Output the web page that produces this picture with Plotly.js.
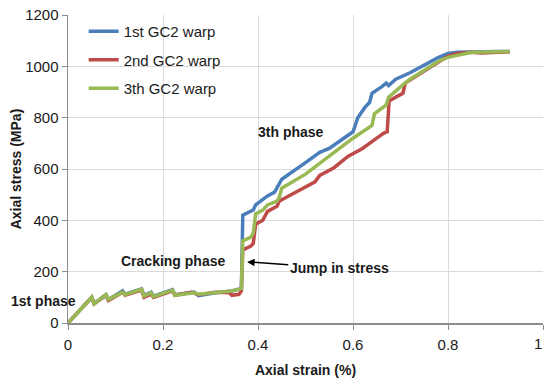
<!DOCTYPE html>
<html>
<head>
<meta charset="utf-8">
<script src="https://cdn.plot.ly/plotly-3.0.1.min.js"></script>
<style>html,body{margin:0;padding:0;background:#fff;}#chart{width:544px;height:380px;}</style>
</head>
<body>
<div id="chart"></div>
<script>
const seriesNames = ["1st GC2 warp", "2nd GC2 warp", "3th GC2 warp"];

const strain1 = [0,0.05,0.055,0.08,0.085,0.115,0.12,0.155,0.16,0.175,0.18,0.22,0.225,0.265,0.275,0.31,0.345,0.365,0.368,0.38,0.39,0.395,0.41,0.42,0.435,0.445,0.45,0.5,0.53,0.55,0.58,0.6,0.61,0.625,0.635,0.64,0.66,0.67,0.675,0.69,0.72,0.75,0.78,0.8,0.82,0.9,0.93];
const stress1 = [0,100,75,110,92,125,112,133,108,120,105,130,110,120,107,118,125,135,420,430,440,460,480,495,510,540,560,625,665,680,720,745,800,840,860,895,920,935,925,950,975,1005,1035,1050,1055,1058,1058];

const strain2 = [0,0.05,0.055,0.08,0.085,0.115,0.12,0.155,0.16,0.175,0.18,0.22,0.225,0.26,0.275,0.31,0.34,0.345,0.36,0.365,0.368,0.385,0.39,0.395,0.41,0.42,0.44,0.445,0.5,0.52,0.53,0.56,0.59,0.62,0.65,0.665,0.672,0.676,0.69,0.705,0.71,0.75,0.78,0.8,0.82,0.85,0.87,0.93];
const stress2 = [0,100,75,108,88,120,108,128,100,112,100,125,108,120,110,120,118,108,112,125,285,300,310,385,400,435,455,475,530,550,575,605,650,680,720,740,745,865,880,895,935,980,1015,1040,1050,1055,1052,1057];

const strain3 = [0,0.05,0.055,0.08,0.085,0.115,0.12,0.155,0.16,0.175,0.18,0.22,0.225,0.265,0.275,0.31,0.345,0.365,0.368,0.385,0.39,0.395,0.41,0.42,0.44,0.445,0.45,0.5,0.55,0.6,0.64,0.645,0.67,0.675,0.7,0.72,0.75,0.78,0.8,0.85,0.93];
const stress3 = [0,100,75,110,92,120,110,132,105,118,103,128,108,118,112,120,125,135,320,335,350,425,440,460,475,490,525,580,650,720,770,815,850,880,920,950,985,1020,1035,1055,1058];

const xTicks = [0, 0.2, 0.4, 0.6, 0.8, 1];
const yTicks = [0, 200, 400, 600, 800, 1000, 1200];

const colors = ["#4A7EBB", "#BE4B48", "#98B954"];
const FONT = "Liberation Sans, Arial, sans-serif";
const TXT = "#1a1a1a";

const xs = [strain1, strain2, strain3];
const ys = [stress1, stress2, stress3];
const traces = seriesNames.map((n, i) => ({
  type: "scatter", mode: "lines", name: n,
  x: xs[i], y: ys[i], legendgroup: "g" + i,
  line: {color: colors[i], width: 3.5},
  hoverinfo: "skip"
}));

const layout = {
  width: 544, height: 380,
  margin: {l: 68, r: 1, t: 15, b: 57},
  paper_bgcolor: "#fff", plot_bgcolor: "#fff",
  font: {family: FONT, size: 15, color: TXT},
  showlegend: true,
  legend: {x: 0.033, y: 1.0, xanchor: "left", yanchor: "top", bgcolor: "rgba(0,0,0,0)",
           font: {family: FONT, size: 15, color: TXT}, tracegroupgap: 6},
  xaxis: {
    range: [0, 1], tickvals: xTicks, ticktext: xTicks.map(String),
    showgrid: true, gridcolor: "#DADADA", gridwidth: 1,
    zeroline: false, showline: true, linecolor: "#8C8C8C", linewidth: 1.5,
    ticks: "outside", ticklen: 5, tickcolor: "#8C8C8C", ticklabelstandoff: 2,
    tickfont: {family: FONT, size: 15, color: TXT},
    title: {text: "<b>Axial strain (%)</b>", font: {family: FONT, size: 14, color: TXT}, standoff: 13}
  },
  yaxis: {
    range: [0, 1200], tickvals: yTicks, ticktext: yTicks.map(String),
    showgrid: true, gridcolor: "#DADADA", gridwidth: 1,
    zeroline: false, showline: true, linecolor: "#8C8C8C", linewidth: 1.5,
    ticks: "outside", ticklen: 5, tickcolor: "#8C8C8C",
    tickfont: {family: FONT, size: 15, color: TXT},
    title: {text: "<b>Axial stress (MPa)</b>", font: {family: FONT, size: 14, color: TXT}, standoff: 0}
  },
  annotations: [
    {x: 0.469, y: 744, xref: "x", yref: "y", text: "<b>3th phase</b>", showarrow: false,
     font: {family: FONT, size: 14, color: TXT}},
    {x: 0.22, y: 243, xref: "x", yref: "y", text: "<b>Cracking phase</b>", showarrow: false,
     font: {family: FONT, size: 14, color: TXT}},
    {x: 0.021, y: 86, xref: "paper", yref: "y", xanchor: "right", text: "<b>1st phase</b>", showarrow: false,
     font: {family: FONT, size: 14, color: TXT}},
    {x: 0.377, y: 238, xref: "x", yref: "y", ax: 0.571, ay: 214, axref: "x", ayref: "y",
     text: "<b>Jump in stress</b>", showarrow: true, arrowhead: 2, arrowsize: 1, arrowwidth: 1.5,
     arrowcolor: "#000", font: {family: FONT, size: 14, color: TXT}},
    {x: 1, y: 0, xref: "paper", yref: "paper", yshift: -20, xshift: 1, text: "1", showarrow: false,
     yanchor: "middle", xanchor: "right", font: {family: FONT, size: 15, color: TXT}}
  ]
};

Plotly.newPlot("chart", traces, layout, {displayModeBar: false, staticPlot: true});
</script>
</body>
</html>
